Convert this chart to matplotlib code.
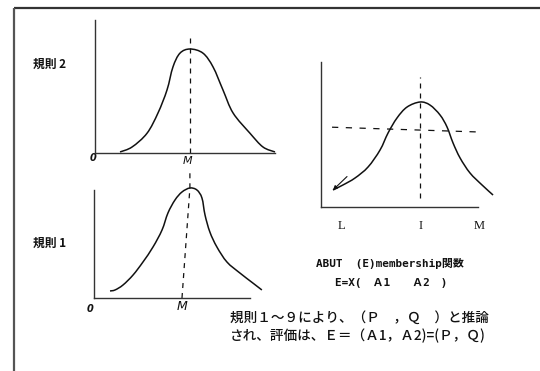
import matplotlib
matplotlib.use("Agg")
import matplotlib.pyplot as plt
from matplotlib.path import Path
from matplotlib.patches import PathPatch

plt.rcParams['font.family'] = ['Noto Sans CJK JP', 'DejaVu Sans']

# ---- membership curves (x: universe position, y: grade) ----
rule2_x = [1.39, 2.06, 2.89, 3.50, 4.00, 4.33, 4.72, 5.28, 6.00, 6.56, 7.11, 7.67, 8.61, 9.33, 10.0]
rule2_y = [0.01, 0.058, 0.19, 0.385, 0.606, 0.827, 0.96, 1.00, 0.96, 0.827, 0.606, 0.385, 0.19, 0.058, 0.01]
rule2_peak = 5.28

rule1_x = [0.89, 1.17, 1.61, 2.17, 2.72, 3.28, 3.78, 4.11, 4.50, 4.89, 5.33,
           5.72, 6.00, 6.17, 6.44, 6.83, 7.39, 8.11, 8.83, 9.33]
rule1_y = [0.064, 0.073, 0.118, 0.209, 0.327, 0.464, 0.618, 0.773, 0.891, 0.964, 1.0,
           0.982, 0.909, 0.755, 0.600, 0.464, 0.327, 0.227, 0.136, 0.073]
rule1_m = 4.89
rule1_peak = 5.33

abut_x = [0.75, 1.375, 2.125, 2.94, 3.69, 4.19, 4.75, 5.375, 6.19,
          6.81, 7.44, 7.875, 8.25, 8.69, 9.31, 10.06, 10.75]
abut_y = [0.162, 0.21, 0.276, 0.381, 0.543, 0.705, 0.848, 0.952, 1.0,
          0.971, 0.876, 0.762, 0.61, 0.467, 0.324, 0.21, 0.114]
abut_peak = 6.19
abut_level_x = [0.69, 9.94]
abut_level_y = [0.76, 0.714]
abut_ticks = [1.3, 6.2, 9.9]
abut_labels = ['L', 'I', 'M']

W, H = 540, 371
fig = plt.figure(figsize=(W / 100, H / 100), dpi=100)
fig.patch.set_facecolor('white')

# background layer in pixel units for frame and captions
bg = fig.add_axes([0, 0, 1, 1])
bg.set_xlim(0, W)
bg.set_ylim(H, 0)
bg.axis('off')
bg.plot([14, W], [8, 8], color='#333333', lw=1.6, solid_capstyle='butt')
bg.plot([14, 14], [8, H], color='#555555', lw=1.6, solid_capstyle='butt')

ink = '#111111'


def make_axes(px_left, px_right, px_top, px_bottom, xmax, ymax):
    ax = fig.add_axes([px_left / W, (H - px_bottom) / H,
                       (px_right - px_left) / W, (px_bottom - px_top) / H])
    ax.set_xlim(0, xmax)
    ax.set_ylim(0, ymax)
    ax.patch.set_alpha(0)
    for s in ('top', 'right'):
        ax.spines[s].set_visible(False)
    for s in ('left', 'bottom'):
        ax.spines[s].set_color('#333333')
        ax.spines[s].set_linewidth(1.0)
    ax.set_xticks([])
    ax.set_yticks([])
    return ax


def smooth_curve(ax, xs, ys, **kw):
    """Draw a smooth curve through the points using cubic Bezier segments."""
    pts = list(zip(xs, ys))
    verts = [pts[0]]
    codes = [Path.MOVETO]
    n = len(pts)
    for i in range(n - 1):
        p0 = pts[i - 1] if i > 0 else pts[i]
        p1 = pts[i]
        p2 = pts[i + 1]
        p3 = pts[i + 2] if i + 2 < n else pts[i + 1]
        c1 = (p1[0] + (p2[0] - p0[0]) / 6, p1[1] + (p2[1] - p0[1]) / 6)
        c2 = (p2[0] - (p3[0] - p1[0]) / 6, p2[1] - (p3[1] - p1[1]) / 6)
        verts += [c1, c2, p2]
        codes += [Path.CURVE4] * 3
    patch = PathPatch(Path(verts, codes), facecolor='none', edgecolor=ink,
                      clip_on=False, **kw)
    ax.add_patch(patch)


# 規則2
ax2 = make_axes(95, 275, 20, 153, 10.0, 1.279)
smooth_curve(ax2, rule2_x, rule2_y, lw=1.1)
ax2.plot([rule2_peak, rule2_peak], [0, 1.15], color=ink, lw=0.9,
         ls=(0, (4, 4)), clip_on=False)

# 規則1
ax1 = make_axes(94, 250, 190, 298, 8.67, 0.982)
smooth_curve(ax1, rule1_x, rule1_y, lw=1.1)
ax1.plot([rule1_m, rule1_peak, rule1_peak], [0, 1.0, 1.16], color=ink, lw=0.9,
         ls=(0, (4, 4)), clip_on=False)

# ABUT membership
ax3 = make_axes(321, 478, 62, 207, 9.81, 1.381)
smooth_curve(ax3, abut_x, abut_y, lw=1.1)
ax3.plot([abut_peak, abut_peak], [0.086, 1.24], color=ink, lw=0.9,
         ls=(0, (4, 4)), clip_on=False)
ax3.plot(abut_level_x, abut_level_y, color=ink, lw=0.9,
         ls=(0, (5, 6)), clip_on=False)
ax3.annotate('', xy=(abut_x[0], abut_y[0]), xytext=(1.625, 0.29),
             arrowprops=dict(arrowstyle='-|>', color=ink, lw=0.8,
                             mutation_scale=6, shrinkA=0, shrinkB=0))
for xv, lab in zip(abut_ticks, abut_labels):
    ax3.text(xv, -0.18, lab, ha='center', va='center', fontsize=9,
             family='Liberation Serif', color=ink)

# axis annotations of the hand-drawn plots
bg.text(93, 158, '0', fontsize=7, style='italic', weight='bold',
        ha='center', va='center', family='DejaVu Sans', color=ink)
bg.text(90, 309, '0', fontsize=7, style='italic', weight='bold',
        ha='center', va='center', family='DejaVu Sans', color=ink)
bg.text(188, 161, 'M', fontsize=8, style='italic',
        ha='center', va='center', family='DejaVu Sans', color=ink)
bg.text(182, 307, 'M', fontsize=9, style='italic',
        ha='center', va='center', family='DejaVu Sans', color=ink)

# rule labels
bg.text(33, 64, '規則 2', fontsize=8.5, weight='bold', ha='left', va='center', color=ink)
bg.text(33, 243, '規則 1', fontsize=8.5, weight='bold', ha='left', va='center', color=ink)

# ABUT captions
mono = ['DejaVu Sans Mono', 'Noto Sans CJK JP']
bg.text(390, 263, 'ABUT  (E)membership関数', fontsize=7.9, weight='bold',
        family=mono, ha='center', va='center', color=ink)
bg.text(391, 283, 'E=X(　Ａ1　　Ａ2　)', fontsize=7.9, weight='bold',
        family=mono, ha='center', va='center', color=ink)

# conclusion text
bg.text(230, 318, '規則１～９により、（Ｐ　，Ｑ　）と推論', fontsize=9.8,
        weight='medium', ha='left', va='center', color=ink)
bg.text(230, 336, 'され、評価は、Ｅ＝（Ａ1，Ａ2)=(Ｐ，Ｑ)', fontsize=9.8,
        weight='medium', ha='left', va='center', color=ink)

fig.savefig('out.png', dpi=100, facecolor='white')
